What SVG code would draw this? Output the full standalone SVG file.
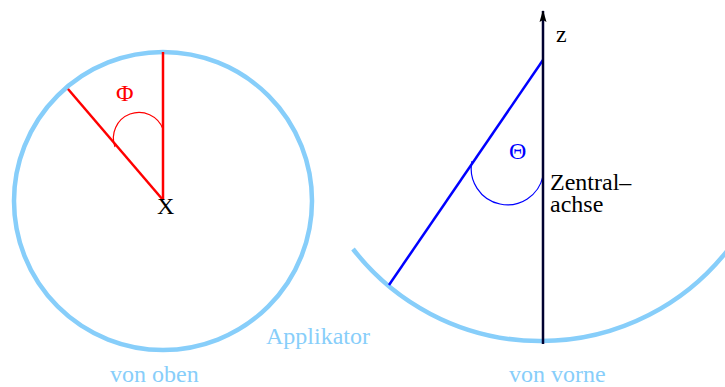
<svg xmlns="http://www.w3.org/2000/svg" width="725" height="387" viewBox="0 0 725 387">
<style>
text{font-family:"Liberation Serif","Times New Roman",serif;font-size:24px}
.appl{fill:none;stroke:#87cefa;stroke-width:4.5}
.lbl{fill:#87cefa}
.red{stroke:#ff0000;fill:none}
.blue{stroke:#0000ff;fill:none}
</style>
<defs>
<marker id="ah" markerWidth="12" markerHeight="8" refX="11" refY="4" orient="auto" markerUnits="userSpaceOnUse" viewBox="0 0 12 8">
<path d="M0 0.5 L12 4 L0 7.5 L2 4 Z" fill="#000"/>
</marker>
</defs>
<rect width="725" height="387" fill="#fff"/>
<g id="top-view">
<circle class="appl" cx="163" cy="201" r="149"/>
<line class="red" x1="163" y1="52" x2="163" y2="200" stroke-width="2.5"/>
<line class="red" x1="68" y1="89" x2="163" y2="200" stroke-width="2.5"/>
<path class="red" d="M115 147 A24 24 0 0 1 163 129" stroke-width="1.2"/>
<text x="116" y="101" fill="#ff0000" font-size="21">Φ</text>
<text x="157" y="214" fill="#000" font-size="22">X</text>
</g>
<g id="front-view">
<path class="appl" d="M353 249 A237.5 237.5 0 0 0 727 251"/>
<line class="blue" x1="543" y1="60" x2="389" y2="285" stroke-width="2.5"/>
<path class="blue" d="M472 161 A36 36 0 0 0 543 176" stroke-width="1.2"/>
<line x1="543" y1="344" x2="543" y2="11" stroke="#000030" stroke-width="2.5" marker-end="url(#ah)"/>
<text x="509" y="159" fill="#0000ff">Θ</text>
<text x="556" y="42" fill="#000" font-size="22">z</text>
<text x="550" y="190" fill="#000" font-size="23">Zentral–</text>
<text x="550" y="212" fill="#000" font-size="23">achse</text>
</g>
<g id="labels">
<text class="lbl" x="266" y="344">Applikator</text>
<text class="lbl" x="110" y="382">von oben</text>
<text class="lbl" x="509" y="382">von vorne</text>
</g>
</svg>
